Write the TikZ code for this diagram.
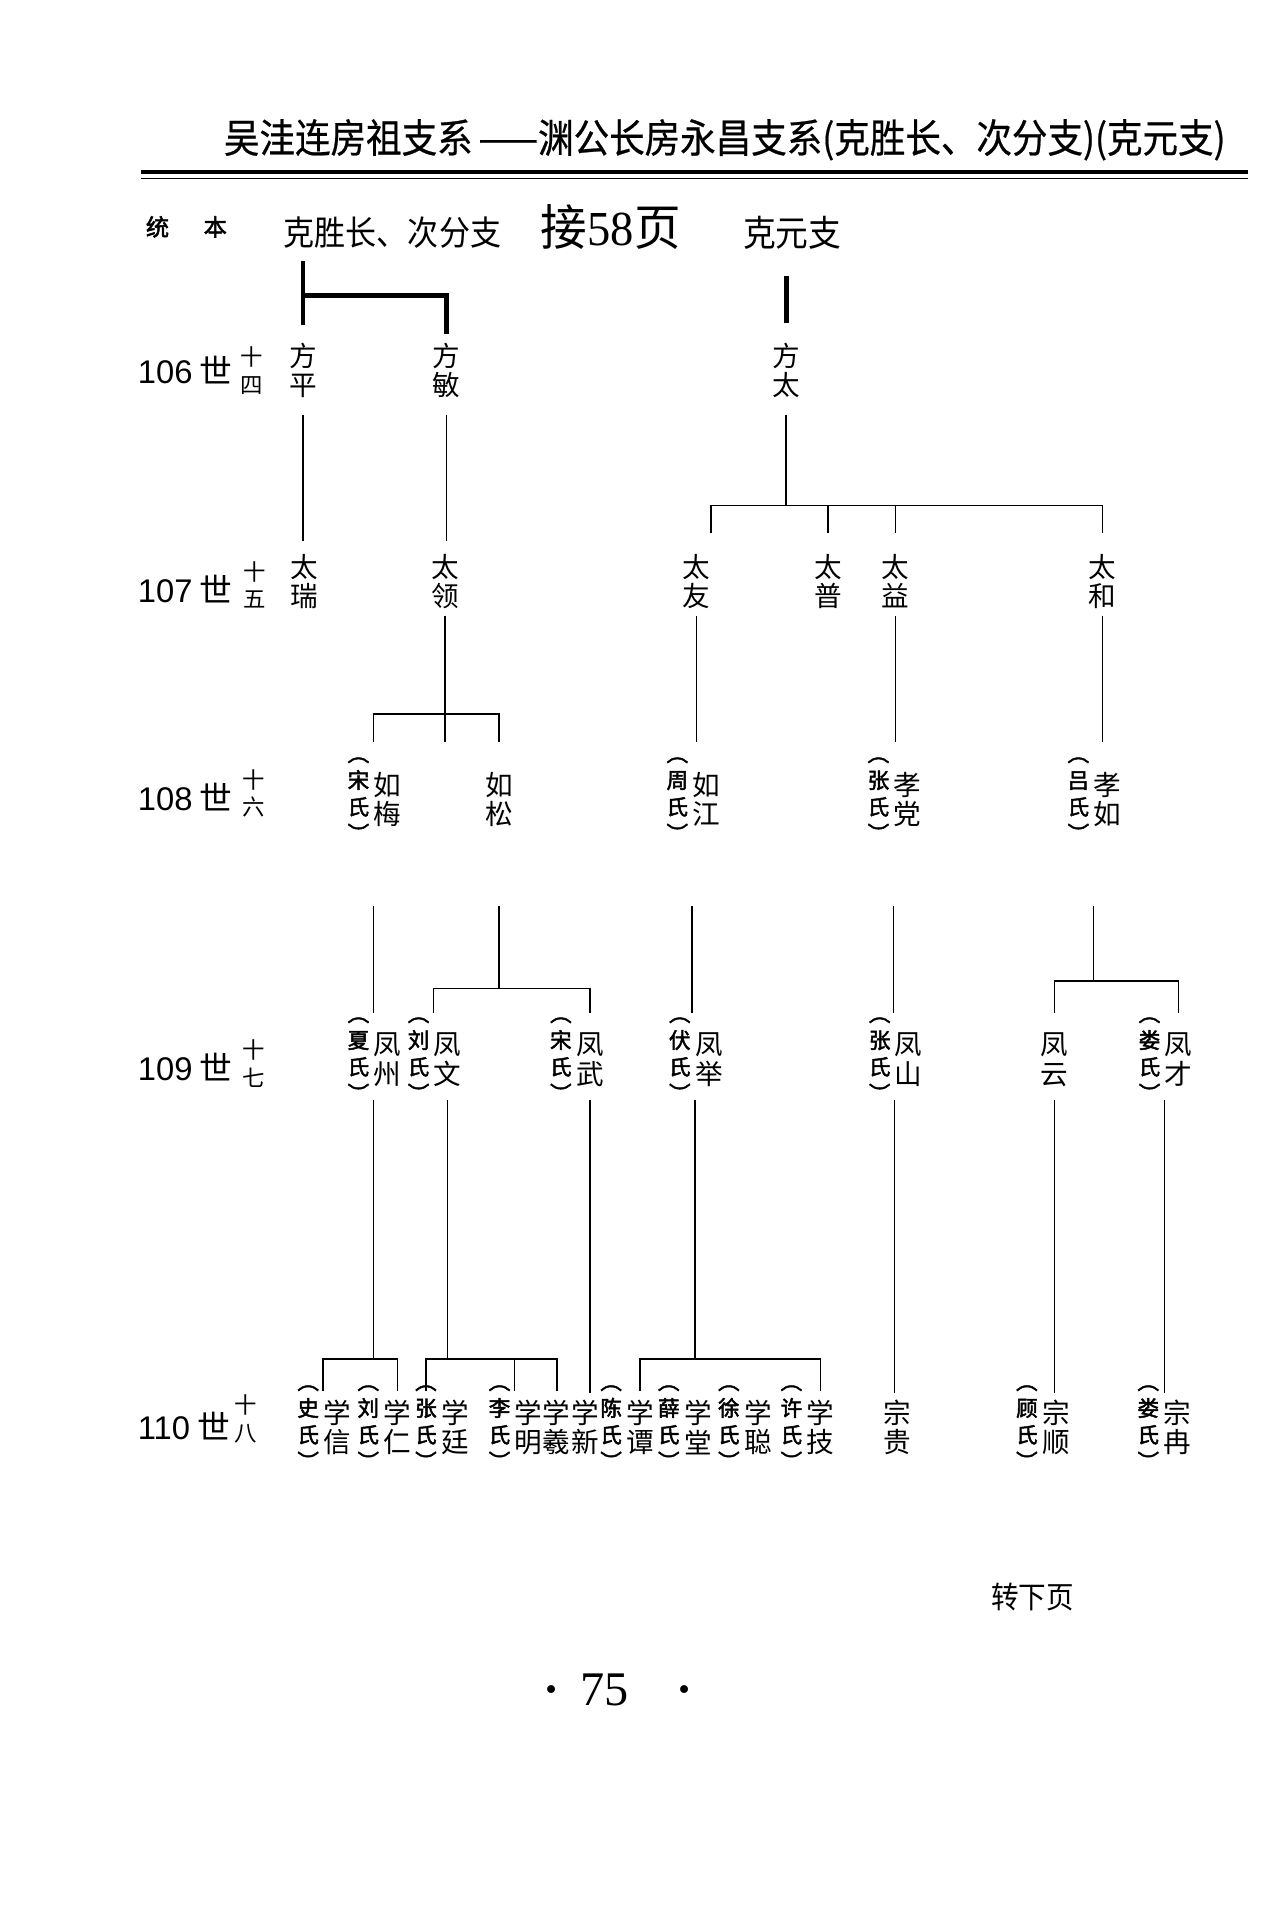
\documentclass[tikz,border=0pt]{standalone}
\usepackage{fontspec}
\usepackage{graphicx}
\setmainfont{Noto Sans CJK SC}
\newfontfamily\shibold[FakeBold=2.2]{Noto Sans CJK SC}
\newfontfamily\headfont[FakeBold=0.6]{Noto Sans CJK SC}
\newfontfamily\lsans{Liberation Sans}
\newfontfamily\lserif{Liberation Serif}
\usetikzlibrary{positioning, calc}

\newcommand{\mingfont}{\fontsize{16}{17}\selectfont}
\newcommand{\shifont}{\shibold\fontsize{12.5}{15.5}\selectfont}

\tikzset{
    ming/.style={inner sep=0pt, align=center, font=\mingfont},
    shi/.style={inner sep=0pt, align=center, font=\shifont, left=2.2pt of #1},
    gen/.style={inner sep=0pt, anchor=east, font=\fontsize{19}{19}\selectfont},
    genno/.style={inner sep=0pt, align=center, font=\fontsize{13}{16}\selectfont},
    link/.style={line width=0.9pt, black},
    boldlink/.style={line width=2.8pt, black}
}

\begin{document}
\begin{tikzpicture}[x=0.025cm, y=-0.025cm]
    \useasboundingbox (0,0) rectangle (1044,1568);

    % page head
    \node[inner sep=0pt, font=\headfont\fontsize{20.6}{20.6}\selectfont] (title) at (591,114)
        {\scalebox{1}[1.12]{吴洼连房祖支系\,——渊公长房永昌支系(克胜长、次分支)(克元支)}};
    \draw[line width=2.2pt] (115,140) -- (1018,140);
    \draw[line width=0.8pt] (115,145.5) -- (1018,145.5);

    \node[inner sep=0pt, font=\shibold\fontsize{13.5}{13.5}\selectfont] (tongben) at (152,185) {统\hspace{20pt}本};
    \node[inner sep=0pt, font=\fontsize{18}{18}\selectfont] (kesheng) at (320,190) {\scalebox{1}[1.1]{克胜长、次分支}};
    \node[inner sep=0pt, font=\fontsize{27}{27}\selectfont] (jie) at (498,185) {\scalebox{1}[1.05]{接{\lserif 58}页}};
    \node[inner sep=0pt, font=\fontsize{19}{19}\selectfont] (keyuan) at (646,190) {\scalebox{1}[1.1]{克元支}};

    % generations
    \node[gen] (g106) at (190,302) {{\lsans 106} 世};
    \node[gen] (g107) at (190,480) {{\lsans 107} 世};
    \node[gen] (g108) at (190,650) {{\lsans 108} 世};
    \node[gen] (g109) at (190,870) {{\lsans 109} 世};
    \node[gen] (g110) at (188,1163) {{\lsans 110} 世};
    \node[genno] (n106) at (205,302) {十\\四};
    \node[genno] (n107) at (208,477) {十\\五};
    \node[genno] (n108) at (207,647) {十\\六};
    \node[genno] (n109) at (207,867) {十\\七};
    \node[genno] (n110) at (200,1157) {十\\八};

    % line levels
    \coordinate (h0) at (0,213);
    \coordinate (h1) at (0,241);
    \coordinate (h2) at (0,265);
    \coordinate (h3) at (0,272);
    \coordinate (h4) at (0,225);
    \coordinate (h5) at (0,263);
    \coordinate (a106) at (0,338);
    \coordinate (k107) at (0,412);
    \coordinate (d107) at (0,435);
    \coordinate (b107) at (0,441);
    \coordinate (a107) at (0,502);
    \coordinate (k108) at (0,582);
    \coordinate (b108) at (0,605);
    \coordinate (a108) at (0,739);
    \coordinate (k109r) at (0,800);
    \coordinate (k109) at (0,806);
    \coordinate (b109) at (0,826);
    \coordinate (a109) at (0,897);
    \coordinate (k110) at (0,1108);
    \coordinate (d110) at (0,1134);
    \coordinate (b110) at (0,1136);

    % 106
    \node[ming] (fp) at (247,302) {方\\平};
    \node[ming] (fm) at (364,302) {方\\敏};
    \node[ming] (fta) at (641,302) {方\\太};

    % 107
    \node[ming] (tr) at (248,474) {太\\瑞};
    \node[ming] (tl) at (363,474) {太\\领};
    \node[ming] (ty) at (568,474) {太\\友};
    \node[ming] (tpu) at (675,474) {太\\普};
    \node[ming] (tyi) at (730,474) {太\\益};
    \node[ming] (th) at (899,474) {太\\和};

    % 108
    \node[ming] (rm) at (316,652) {如\\梅};
    \node[shi=rm] (rms) {︵\\宋\\氏\\︶};
    \node[ming] (rs) at (407,652) {如\\松};
    \node[ming] (rj) at (576,652) {如\\江};
    \node[shi=rj] (rjs) {︵\\周\\氏\\︶};
    \node[ming] (xd) at (740,652) {孝\\党};
    \node[shi=xd] (xds) {︵\\张\\氏\\︶};
    \node[ming] (xr) at (903,652) {孝\\如};
    \node[shi=xr] (xrs) {︵\\吕\\氏\\︶};

    % 109
    \node[ming] (fz) at (316,864) {凤\\州};
    \node[shi=fz] (fzs) {︵\\夏\\氏\\︶};
    \node[ming] (fw) at (365,864) {凤\\文};
    \node[shi=fw] (fws) {︵\\刘\\氏\\︶};
    \node[ming] (fwu) at (481,864) {凤\\武};
    \node[shi=fwu] (fwus) {︵\\宋\\氏\\︶};
    \node[ming] (fj) at (578,864) {凤\\举};
    \node[shi=fj] (fjs) {︵\\伏\\氏\\︶};
    \node[ming] (fs) at (741,864) {凤\\山};
    \node[shi=fs] (fss) {︵\\张\\氏\\︶};
    \node[ming] (fy) at (860,864) {凤\\云};
    \node[ming] (fc) at (961,864) {凤\\才};
    \node[shi=fc] (fcs) {︵\\娄\\氏\\︶};

    % 110
    \node[ming] (xx) at (275,1164) {学\\信};
    \node[shi=xx] (xxs) {︵\\史\\氏\\︶};
    \node[ming] (xrn) at (324,1164) {学\\仁};
    \node[shi=xrn] (xrns) {︵\\刘\\氏\\︶};
    \node[ming] (xt) at (371,1164) {学\\廷};
    \node[shi=xt] (xts) {︵\\张\\氏\\︶};
    \node[ming] (xm) at (431,1164) {学\\明};
    \node[shi=xm] (xms) {︵\\李\\氏\\︶};
    \node[ming] (xxy) at (454,1164) {学\\羲};
    \node[ming] (xxin) at (477,1164) {学\\新};
    \node[ming] (xtan) at (522,1164) {学\\谭};
    \node[shi=xtan] (xtans) {︵\\陈\\氏\\︶};
    \node[ming] (xtg) at (569,1164) {学\\堂};
    \node[shi=xtg] (xtgs) {︵\\薛\\氏\\︶};
    \node[ming] (xc) at (618,1164) {学\\聪};
    \node[shi=xc] (xcs) {︵\\徐\\氏\\︶};
    \node[ming] (xj) at (669,1164) {学\\技};
    \node[shi=xj] (xjs) {︵\\许\\氏\\︶};
    \node[ming] (zg) at (732,1164) {宗\\贵};
    \node[ming] (zs) at (861,1164) {宗\\顺};
    \node[shi=zs] (zss) {︵\\顾\\氏\\︶};
    \node[ming] (zr) at (960,1164) {宗\\冉};
    \node[shi=zr] (zrs) {︵\\娄\\氏\\︶};

    % head lines
    \draw[boldlink] (fp |- h0) -- (fp |- h2);
    \draw[boldlink] (fp |- h1) -| (fm |- h3);
    \draw[boldlink] (fta |- h4) -- (fta |- h5);

    % 106 -> 107
    \draw[link] (fp |- a106) -- (fp |- b107);
    \draw[link] (fm |- a106) -- (fm |- b107);
    \draw[link] (fta |- a106) -- (fta |- k107);
    \draw[link] (ty.east |- d107) |- (th |- k107) -- (th |- d107);
    \draw[link] (tpu |- k107) -- (tpu |- d107);
    \draw[link] (tyi |- k107) -- (tyi |- d107);

    % 107 -> 108
    \draw[link] (tl |- a107) -- (tl |- b108);
    \draw[link] (rm.west |- b108) |- (rs |- k108) -- (rs |- b108);
    \draw[link] (ty |- a107) -- (ty |- b108);
    \draw[link] (tyi |- a107) -- (tyi |- b108);
    \draw[link] (th |- a107) -- (th |- b108);

    % 108 -> 109
    \draw[link] (rm.west |- a108) -- (rm.west |- b109);
    \draw[link] (rs |- a108) -- (rs |- k109);
    \draw[link] (fw.west |- b109) |- (fwu |- k109) -- (fwu |- b109);
    \draw[link] (rj.west |- a108) -- (rj.west |- b109);
    \draw[link] (xd.west |- a108) -- (xd.west |- b109);
    \draw[link] (xr.west |- a108) -- (xr.west |- k109r);
    \draw[link] (fy |- b109) |- (fc |- k109r) -- (fc |- b109);

    % 109 -> 110
    \draw[link] (fz.west |- a109) -- (fz.west |- k110);
    \draw[link] (xx.west |- d110) |- (xrn |- k110) -- (xrn |- d110);
    \draw[link] (fw |- a109) -- (fw |- k110);
    \draw[link] (xts |- d110) |- (xxy |- k110) -- (xxy |- d110);
    \draw[link] (xm.west |- k110) -- (xm.west |- d110);
    \draw[link] (fwu |- a109) -- (fwu |- b110);
    \draw[link] (fj.west |- a109) -- (fj.west |- k110);
    \draw[link] (xtan |- d110) |- (xj |- k110) -- (xj |- d110);
    \draw[link] (fs.west |- a109) -- (fs.west |- b110);
    \draw[link] (fy |- a109) -- (fy |- b110);
    \draw[link] (fc.west |- a109) -- (fc.west |- b110);

    % foot
    \node[inner sep=0pt, font=\fontsize{16}{16}\selectfont] (zhuan) at (842,1302) {\scalebox{1}[1.1]{转下页}};
    \node[inner sep=0pt, font=\lserif\fontsize{28}{28}\selectfont] (pageno) at (504,1378)
        {\textbf{·}\hspace{12pt}75\hspace{28pt}\textbf{·}};
\end{tikzpicture}
\end{document}
